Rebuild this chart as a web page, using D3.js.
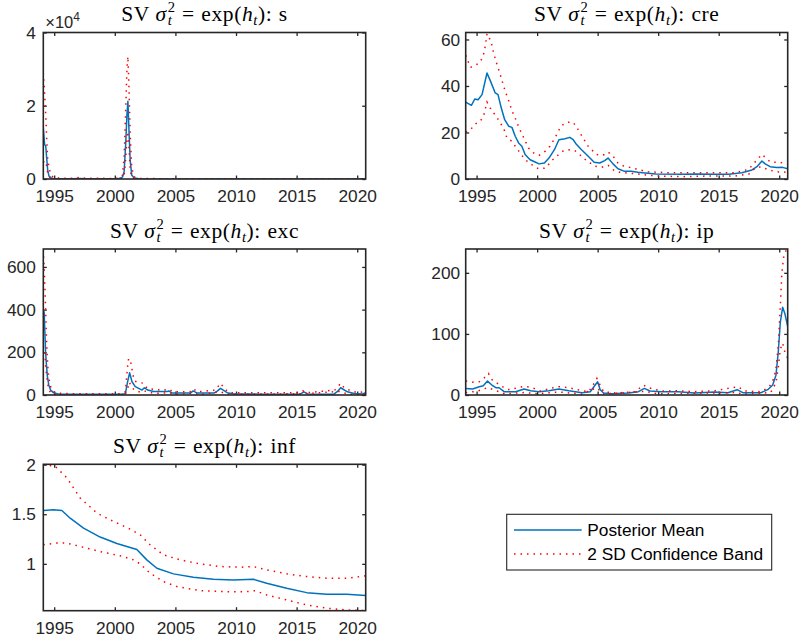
<!DOCTYPE html>
<html>
<head>
<meta charset="utf-8">
<script src="https://cdn.jsdelivr.net/npm/d3@7"></script>
<style>
  html, body { margin: 0; padding: 0; background: #fff; }
  svg { display: block; }
</style>
</head>
<body>
<svg id="chart" width="801" height="642"></svg>
<script>
// ---- shared axis values ----
const yearDomain = [1994.1, 2020.7];
const yearTicks = [1995, 2000, 2005, 2010, 2015, 2020];

// ---- s ----
const sDates  = [1994.1, 1994.21, 1994.3, 1994.38, 1994.46, 1994.57, 1994.74, 1994.93, 1995.5, 1996.5, 1997.1, 1997.6, 1998.5, 1999.5, 2000.3, 2000.63, 2000.77, 2000.91, 2001.0, 2001.08, 2001.16, 2001.27, 2001.4, 2001.6, 2002.0, 2005, 2010, 2015, 2020.7];
const sMean   = [14000, 9400, 9000, 5700, 2500, 800, 300, 150, 80, 60, 150, 50, 60, 40, 60, 500, 2000, 10400, 17500, 21200, 14000, 5000, 1000, 300, 60, 20, 10, 10, 10];
const sUpper  = [29000, 23500, 17500, 11000, 5700, 3000, 1200, 400, 250, 200, 450, 200, 200, 150, 200, 1000, 6000, 20000, 30000, 33500, 26000, 12000, 3000, 600, 150, 60, 40, 40, 40];
const sLower  = [4500, 5000, 4500, 3500, 1500, 600, 200, 80, 30, 20, 40, 15, 20, 10, 20, 200, 1000, 6000, 11000, 13000, 9000, 2500, 400, 100, 15, 5, 3, 3, 3];
const sTicks  = [0, 20000, 40000];

// ---- cre ----
const creMeanDates = [1994.1, 1994.57, 1994.85, 1995.12, 1995.45, 1995.86, 1996.13, 1996.54, 1996.77, 1997.04, 1997.32, 1997.65, 1997.92, 1998.19, 1998.47, 1998.74, 1999.01, 1999.42, 1999.83, 2000.16, 2000.6, 2000.98, 2001.43, 2001.8, 2002.3, 2002.7, 2002.98, 2003.26, 2003.67, 2004.22, 2004.71, 2005.17, 2005.58, 2005.86, 2006.27, 2006.68, 2007.23, 2007.78, 2008.33, 2008.71, 2009.81, 2012.0, 2013.1, 2014.74, 2015.83, 2016.92, 2017.75, 2018.16, 2018.57, 2018.84, 2019.25, 2019.8, 2020.27, 2020.7];
const creMean = [33.1, 31.7, 34.4, 34.1, 36.3, 45.6, 42.3, 37, 36.3, 30.5, 25.5, 22.7, 22.2, 18.4, 15.5, 14.1, 10.5, 8.3, 7.3, 6.5, 6.9, 9, 12.6, 16.9, 17.3, 17.9, 16.9, 14.8, 12.6, 9.8, 7.2, 6.9, 7.9, 9, 6.5, 4.4, 3.3, 3.3, 2.9, 2.7, 2.1, 2.0, 2.1, 2.0, 2.0, 2.7, 3.9, 5.3, 7.7, 6.5, 5.3, 4.9, 5.0, 4.4];
const creUpperDates = [1994.1, 1994.49, 1994.9, 1995.23, 1995.51, 1995.67, 1995.86, 1996.19, 1996.41, 1996.6, 1996.87, 1997.1, 1997.37, 1997.65, 1997.92, 1998.19, 1998.52, 1998.8, 1999.29, 1999.71, 2000.16, 2000.65, 2001.06, 2001.47, 2001.97, 2002.44, 2002.98, 2003.39, 2003.8, 2004.22, 2004.9, 2005.45, 2005.86, 2006.27, 2006.68, 2007.1, 2007.64, 2008.05, 2009.1, 2010.88, 2013.1, 2014.74, 2016.38, 2017.07, 2017.48, 2018.02, 2018.57, 2019.25, 2019.99, 2020.7];
const creUpper = [53.2, 48, 48.9, 49.9, 52.3, 55.6, 62.5, 59.2, 54.2, 50.6, 46.3, 42.3, 37.7, 33.7, 29.4, 26.2, 21.9, 18.8, 13.3, 11.2, 10.2, 11.9, 14.1, 17.6, 22.7, 24.4, 24.4, 21.2, 17.6, 14.1, 10.5, 10.2, 11.6, 9.8, 6.9, 5.7, 5.0, 4.5, 3.1, 2.7, 2.7, 2.7, 2.7, 3.6, 4.2, 7.4, 10.6, 7.4, 7.0, 7.2];
const creLowerDates = [1994.1, 1994.49, 1994.9, 1995.31, 1995.59, 1995.86, 1996.13, 1996.41, 1996.68, 1996.96, 1997.23, 1997.51, 1997.92, 1998.19, 1998.6, 1999.01, 1999.56, 2000.11, 2000.71, 2001.15, 2001.62, 2002.17, 2002.7, 2003.12, 2003.67, 2004.08, 2004.77, 2005.31, 2005.86, 2006.35, 2006.81, 2007.36, 2008.05, 2009.81, 2012.0, 2014.2, 2016.38, 2017.48, 2018.02, 2018.52, 2019.12, 2019.8, 2020.7];
const creLower = [20.2, 21.2, 23.7, 24.8, 27.4, 33.1, 30.5, 28.4, 26.5, 24.1, 21.9, 17.6, 16.2, 14.1, 11.2, 8.3, 6.2, 4.4, 4.7, 7.6, 9.8, 12.2, 12.6, 12.2, 9.8, 7.9, 5.5, 5.0, 5.9, 3.7, 2.9, 2.6, 2.3, 1.3, 1.0, 1.3, 1.3, 2.1, 4.6, 5.3, 3.9, 3.1, 2.9];
const creTicks = [0, 20, 40, 60];

// ---- exc ----
const excMeanDates = [1994.1, 1994.17, 1994.23, 1994.29, 1994.36, 1994.44, 1994.55, 1994.7, 1994.94, 1995.4, 1996.5, 1998, 1999.5, 2000.5, 2000.87, 2001.05, 2001.22, 2001.42, 2001.69, 2001.97, 2002.25, 2002.44, 2002.71, 2003.2, 2004.31, 2004.45, 2004.73, 2006.24, 2006.46, 2006.8, 2008.17, 2008.45, 2008.72, 2009.27, 2009.82, 2012, 2015.3, 2015.6, 2015.9, 2018.08, 2018.4, 2018.64, 2019.19, 2019.74, 2020.43, 2020.7];
const excMean = [397, 388, 296, 202, 140, 86, 47, 23, 11, 4, 3, 3, 3, 3, 6, 60, 104, 62, 39, 31, 23, 34, 23, 16, 16, 19, 9, 9, 19, 9, 9, 18, 31, 11, 5, 4, 4, 15, 5, 4, 18, 34, 15, 7, 5, 11];
const excUpperDates = [1994.1, 1994.2, 1994.26, 1994.31, 1994.36, 1994.42, 1994.5, 1994.61, 1994.75, 1994.94, 1995.36, 1996.5, 1998, 1999.5, 2000.5, 2000.87, 2001.06, 2001.14, 2001.34, 2001.5, 2001.64, 2001.97, 2002.38, 2002.66, 2003.2, 2004.0, 2004.45, 2004.8, 2006.2, 2006.46, 2006.8, 2008.3, 2008.72, 2009.1, 2009.5, 2012, 2015.2, 2015.5, 2015.9, 2018.15, 2018.64, 2018.92, 2019.47, 2020.0, 2020.5, 2020.7];
const excUpper = [680, 553, 460, 366, 266, 187, 109, 62, 31, 15, 8, 6, 6, 6, 6, 15, 137, 171, 148, 93, 65, 59, 55, 31, 27, 22, 28, 15, 15, 30, 15, 23, 55, 26, 11, 11, 11, 20, 11, 23, 55, 34, 20, 11, 15, 23];
const excLowerDates = [1994.1, 1994.23, 1994.31, 1994.42, 1994.5, 1994.61, 1994.75, 1994.94, 1995.5, 2000.5, 2000.87, 2001.06, 2001.2, 2001.4, 2001.7, 2002.2, 2002.5, 2003.2, 2004.45, 2005, 2006.46, 2007, 2008.72, 2009.3, 2015.6, 2018.64, 2019.2, 2020.7];
const excLower = [230, 200, 120, 70, 40, 20, 8, 3, 1, 1, 3, 30, 60, 35, 20, 12, 18, 8, 10, 3, 8, 2, 15, 3, 6, 17, 4, 3];
const excTicks = [0, 200, 400, 600];

// ---- ip ----
const ipMeanDates = [1994.1, 1994.67, 1995.22, 1995.55, 1995.9, 1996.26, 1996.59, 1996.86, 1997.27, 1998.23, 1998.92, 1999.46, 2000.15, 2000.97, 2001.8, 2002.62, 2003.71, 2004.39, 2004.8, 2005.0, 2005.21, 2005.49, 2006.18, 2007.55, 2008.37, 2008.86, 2009.32, 2010.28, 2011.65, 2013.02, 2014.66, 2015.76, 2016.53, 2016.99, 2018.5, 2019.05, 2019.46, 2019.73, 2019.92, 2020.09, 2020.28, 2020.47, 2020.7];
const ipMean = [10.8, 9.8, 13.6, 15.2, 22.8, 16.3, 11.9, 11.9, 5.4, 5.4, 9.8, 7, 5.4, 7, 9.8, 7, 3.8, 5.4, 16.3, 21.7, 8.7, 3.3, 2.2, 3.3, 5.4, 10.8, 6.5, 5.4, 5.4, 3.3, 4.9, 3.8, 8.7, 3.8, 3.8, 8.7, 16.3, 32.5, 70, 119, 143.6, 133, 112];
const ipUpperDates = [1994.1, 1994.67, 1995.22, 1995.63, 1995.98, 1996.3, 1996.72, 1997.13, 1997.68, 1998.78, 1999.19, 1999.74, 2000.29, 2001.11, 2001.8, 2002.62, 2003.3, 2004.26, 2004.8, 2004.94, 2005.13, 2005.49, 2006.45, 2008.1, 2008.78, 2009.19, 2010.28, 2011.65, 2013.02, 2014.66, 2016.58, 2017.13, 2018.5, 2019.19, 2019.55, 2019.73, 2019.92, 2020.09, 2020.22, 2020.36, 2020.55, 2020.7];
const ipUpper = [22.8, 21, 21.7, 28, 35.2, 24.4, 19, 13.6, 8.7, 13.6, 13.6, 10.8, 6.5, 10.8, 13.6, 11.9, 8.7, 5.4, 21.7, 27, 19, 5.4, 3.3, 5.4, 16.3, 11.9, 6.5, 7, 5.4, 7, 13.6, 6.5, 5.4, 13.6, 27, 43, 81, 146, 200, 225, 236, 237];
const ipLowerDates = [1994.1, 1995.0, 1995.9, 1996.5, 1997.3, 1999, 2000, 2001.8, 2003.7, 2004.9, 2005.5, 2008.86, 2010, 2016.5, 2017, 2019.3, 2019.73, 2019.92, 2020.09, 2020.28, 2020.47, 2020.7];
const ipLower = [4, 6, 12, 8, 2, 4, 2, 5, 1.5, 12, 1.5, 6, 2, 4, 1.5, 4, 20, 45, 75, 85, 70, 60];
const ipTicks = [0, 100, 200];

// ---- inf ----
const infMeanDates = [1994.1, 1994.94, 1995.63, 1996.32, 1997.42, 1998.79, 2000.17, 2000.99, 2001.82, 2002.64, 2003.47, 2004.84, 2006.48, 2008.13, 2009.78, 2011.43, 2012.53, 2014.18, 2015.83, 2017.48, 2019.13, 2020.7];
const infMean = [1.538, 1.545, 1.538, 1.46, 1.36, 1.27, 1.205, 1.175, 1.145, 1.04, 0.956, 0.899, 0.866, 0.845, 0.838, 0.845, 0.805, 0.755, 0.71, 0.694, 0.694, 0.68];
const infUpperDates = [1994.1, 1995.08, 1996.05, 1997.14, 1998.52, 1999.89, 2001.27, 2002.09, 2002.91, 2004.01, 2005.39, 2007.04, 2008.69, 2010.33, 2011.43, 2012.53, 2014.18, 2015.83, 2017.48, 2019.13, 2020.7];
const infUpper = [2.0, 1.983, 1.866, 1.664, 1.512, 1.427, 1.35, 1.293, 1.192, 1.091, 1.04, 1.0, 0.973, 0.966, 0.973, 0.939, 0.899, 0.872, 0.855, 0.855, 0.879];
const infLowerDates = [1994.1, 1995.22, 1996.05, 1997.14, 1998.79, 2000.44, 2001.54, 2002.09, 2002.91, 2004.01, 2005.12, 2007.04, 2009.24, 2010.88, 2011.57, 2012.53, 2014.18, 2015.83, 2017.48, 2019.13, 2020.7];
const infLower = [1.192, 1.209, 1.209, 1.175, 1.124, 1.081, 1.04, 1.0, 0.906, 0.821, 0.771, 0.73, 0.72, 0.72, 0.73, 0.687, 0.636, 0.586, 0.553, 0.535, 0.528];
const infTicks = [1, 1.5, 2];

// ---- legend ----
const legendLabels = ["Posterior Mean", "2 SD Confidence Band"];

// ---- layout & styling ----
const cols = [{ x0: 43.3, x1: 365.7, pad: 7.5 }, { x0: 465.7, x1: 787.7, pad: 5.5 }];
const rows = [{ y0: 32.5, y1: 179 }, { y0: 249, y1: 395 }, { y0: 464.3, y1: 610.7 }];
const axisColor = "#262626";
const meanColor = "#0072BD";
const bandColor = "#ff0000";
const sansFont = "'Liberation Sans', Arial, Helvetica, sans-serif";
const serifFont = "'Liberation Serif', 'Times New Roman', serif";
const tickFontSize = 17.3;
const titleFontSize = 21.5;

const zip = (xs, ys) => xs.map((d, i) => [d, ys[i]]);

const panels = [
  { name: "s", col: 0, row: 0, yDomain: [0, 40000], ticks: sTicks, fmt: d => String(d / 1e4), exponent: 4,
    mean: zip(sDates, sMean), upper: zip(sDates, sUpper), lower: zip(sDates, sLower) },
  { name: "cre", col: 1, row: 0, yDomain: [0, 63], ticks: creTicks, fmt: d => String(d),
    mean: zip(creMeanDates, creMean), upper: zip(creUpperDates, creUpper), lower: zip(creLowerDates, creLower) },
  { name: "exc", col: 0, row: 1, yDomain: [0, 684], ticks: excTicks, fmt: d => String(d),
    mean: zip(excMeanDates, excMean), upper: zip(excUpperDates, excUpper), lower: zip(excLowerDates, excLower) },
  { name: "ip", col: 1, row: 1, yDomain: [0, 239], ticks: ipTicks, fmt: d => String(d),
    mean: zip(ipMeanDates, ipMean), upper: zip(ipUpperDates, ipUpper), lower: zip(ipLowerDates, ipLower) },
  { name: "inf", col: 0, row: 2, yDomain: [0.528, 2.003], ticks: infTicks, fmt: d => String(d),
    mean: zip(infMeanDates, infMean), upper: zip(infUpperDates, infUpper), lower: zip(infLowerDates, infLower) }
];

const svg = d3.select("#chart");
const defs = svg.append("defs");

// Title "SV σ_t^2 = exp(h_t): name" set in math style
function drawTitle(g, cx, baseline, name) {
  const fs = titleFontSize, small = fs * 0.68;
  const supW = small * 0.5, subW = small * 0.28;
  const t = g.append("text")
    .attr("x", cx).attr("y", baseline)
    .attr("text-anchor", "middle")
    .attr("font-family", serifFont)
    .attr("font-size", fs)
    .attr("letter-spacing", 0.6)
    .attr("fill", "#000");
  t.append("tspan").text("SV ");
  t.append("tspan").attr("font-style", "italic").text("σ");
  t.append("tspan").attr("font-size", small).attr("dy", -fs * 0.4).attr("dx", 1).text("2");
  t.append("tspan").attr("font-size", small).attr("font-style", "italic")
    .attr("dx", -supW - 0.6).attr("dy", fs * 0.4 + fs * 0.2).text("t");
  t.append("tspan").attr("dx", (supW - subW) + fs * 0.3).attr("dy", -fs * 0.2).text("=");
  t.append("tspan").attr("dx", fs * 0.3).text("exp(");
  t.append("tspan").attr("font-style", "italic").text("h");
  t.append("tspan").attr("font-size", small).attr("font-style", "italic").attr("dy", fs * 0.2).text("t");
  t.append("tspan").attr("dy", -fs * 0.2).text("):");
  t.append("tspan").attr("dx", fs * 0.3).text(name);
}

panels.forEach((p, i) => {
  const c = cols[p.col], r = rows[p.row];
  const x = d3.scaleLinear().domain(yearDomain).range([c.x0, c.x1]);
  const y = d3.scaleLinear().domain(p.yDomain).range([r.y1, r.y0]);
  const g = svg.append("g");

  const clipId = "clip-" + p.name;
  defs.append("clipPath").attr("id", clipId)
    .append("rect").attr("x", c.x0).attr("y", r.y0)
    .attr("width", c.x1 - c.x0).attr("height", r.y1 - r.y0);

  // axes: labelled bottom/left, tick-only top/right
  const styleAxis = sel => {
    sel.select(".domain").remove();
    sel.selectAll(".tick line").attr("stroke", axisColor).attr("stroke-width", 1.3);
    sel.selectAll("text").attr("fill", axisColor)
      .attr("font-family", sansFont).attr("font-size", tickFontSize);
  };
  g.append("g").attr("transform", `translate(0,${r.y1})`)
    .call(d3.axisBottom(x).tickValues(yearTicks).tickFormat(d3.format("d"))
      .tickSize(-3.5).tickPadding(10.7)).call(styleAxis);
  g.append("g").attr("transform", `translate(0,${r.y0})`)
    .call(d3.axisTop(x).tickValues(yearTicks).tickFormat("").tickSize(-3.5)).call(styleAxis);
  g.append("g").attr("transform", `translate(${c.x0},0)`)
    .call(d3.axisLeft(y).tickValues(p.ticks).tickFormat(p.fmt)
      .tickSize(-3.5).tickPadding(c.pad)).call(styleAxis);
  g.append("g").attr("transform", `translate(${c.x1},0)`)
    .call(d3.axisRight(y).tickValues(p.ticks).tickFormat("").tickSize(-3.5)).call(styleAxis);

  // series
  const line = d3.line().x(d => x(d[0])).y(d => y(d[1]));
  const lines = g.append("g").attr("clip-path", `url(#${clipId})`);
  lines.append("path").datum(p.mean)
    .attr("d", line).attr("fill", "none")
    .attr("stroke", meanColor).attr("stroke-width", 1.5).attr("stroke-linejoin", "round");
  [p.upper, p.lower].forEach(band => {
    lines.append("path").datum(band)
      .attr("d", line).attr("fill", "none")
      .attr("stroke", bandColor).attr("stroke-width", 1.5)
      .attr("stroke-dasharray", "1.5 5");
  });

  // frame
  g.append("rect")
    .attr("x", c.x0).attr("y", r.y0)
    .attr("width", c.x1 - c.x0).attr("height", r.y1 - r.y0)
    .attr("fill", "none").attr("stroke", axisColor).attr("stroke-width", 1.6);

  // exponent label
  if (p.exponent) {
    const e = g.append("text")
      .attr("x", c.x0 + 2).attr("y", r.y0 - 5)
      .attr("font-family", sansFont).attr("font-size", 16.5).attr("fill", axisColor);
    e.append("tspan").text("×10");
    e.append("tspan").attr("font-size", 12).attr("dy", -7).text(String(p.exponent));
  }

  drawTitle(g, (c.x0 + c.x1) / 2, r.y0 - 11.5, p.name);
});

// legend
const lg = svg.append("g");
lg.append("rect")
  .attr("x", 506.7).attr("y", 514.3).attr("width", 265).attr("height", 55.7)
  .attr("fill", "#fff").attr("stroke", axisColor).attr("stroke-width", 1.1);
const legendStyles = [
  { stroke: meanColor, dash: null },
  { stroke: bandColor, dash: "1.5 5" }
];
legendLabels.forEach((label, i) => {
  const yy = 530 + i * 24;
  lg.append("line")
    .attr("x1", 514).attr("x2", 581.7).attr("y1", yy).attr("y2", yy)
    .attr("stroke", legendStyles[i].stroke).attr("stroke-width", 1.5)
    .attr("stroke-dasharray", legendStyles[i].dash);
  lg.append("text")
    .attr("x", 587.3).attr("y", yy).attr("dy", "0.35em")
    .attr("font-family", sansFont).attr("font-size", tickFontSize).attr("fill", "#000")
    .text(label);
});
</script>
</body>
</html>
